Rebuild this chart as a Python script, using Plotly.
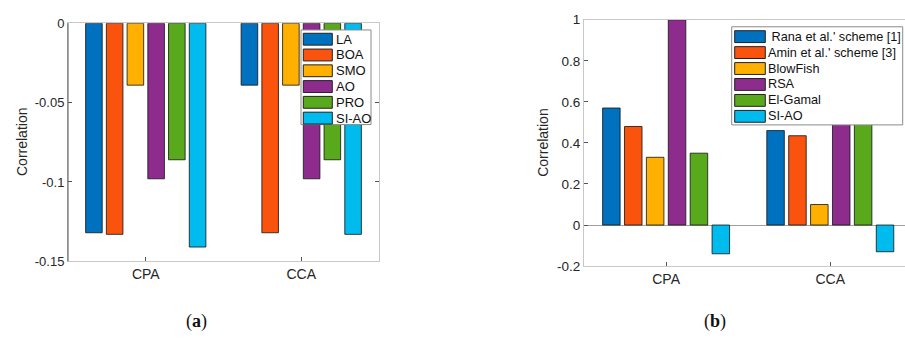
import plotly.graph_objects as go

W, H = 905, 342

categories = ["CPA", "CCA"]

# Panel (a)
names_a = ["LA", "BOA", "SMO", "AO", "PRO", "SI-AO"]
vals_a = {
    "LA": [-0.132, -0.039],
    "BOA": [-0.133, -0.132],
    "SMO": [-0.039, -0.039],
    "AO": [-0.098, -0.098],
    "PRO": [-0.086, -0.086],
    "SI-AO": [-0.141, -0.133],
}
yticks_a = [0, -0.05, -0.1, -0.15]
yticktext_a = ["0", "-0.05", "-0.1", "-0.15"]

# Panel (b)
names_b = ["Rana et al.' scheme [1]", "Amin et al.' scheme [3]", "BlowFish", "RSA", "El-Gamal", "SI-AO"]
legend_b = [" Rana et al.' scheme [1]", "Amin et al.' scheme [3]", "BlowFish", "RSA", "El-Gamal", "SI-AO"]
vals_b = {
    "Rana et al.' scheme [1]": [0.57, 0.46],
    "Amin et al.' scheme [3]": [0.48, 0.435],
    "BlowFish": [0.33, 0.10],
    "RSA": [1.0, 0.85],
    "El-Gamal": [0.35, 0.6],
    "SI-AO": [-0.14, -0.13],
}
yticks_b = [-0.2, 0, 0.2, 0.4, 0.6, 0.8, 1]
yticktext_b = ["-0.2", "0", "0.2", "0.4", "0.6", "0.8", "1"]

colors = ["#0071BF", "#F9530E", "#FFB000", "#8E2C8E", "#59A91C", "#00BCEE"]

FONT = "Arial"
TXT = "#262626"


def px(x):
    return x / W


def py(y):
    return 1 - y / H


fig = go.Figure()

for i, n in enumerate(names_a):
    fig.add_trace(go.Bar(x=[1, 2], y=vals_a[n], name=n, marker=dict(color=colors[i], line=dict(color="#111", width=0.8)),
                         xaxis="x", yaxis="y", showlegend=False, offsetgroup=str(i)))
for i, n in enumerate(names_b):
    fig.add_trace(go.Bar(x=[1, 2], y=vals_b[n], name=n, marker=dict(color=colors[i], line=dict(color="#111", width=0.8)),
                         xaxis="x2", yaxis="y2", showlegend=False, offsetgroup=str(i)))

# plot areas in px
A = dict(x0=68, x1=379, y0=17, y1=266)
B = dict(x0=584, x1=905, y0=13.3, y1=271)

axcommon = dict(showgrid=False, ticks="inside", ticklen=4, tickcolor="#555", tickwidth=1,
                linecolor="#c8c8c8", linewidth=1, showline=True)

fig.update_layout(
    width=W, height=H, margin=dict(l=0, r=0, t=0, b=0),
    paper_bgcolor="white", plot_bgcolor="white",
    barmode="group", bargap=0.2, bargroupgap=0.2,
    font=dict(family=FONT, color=TXT),
    xaxis=dict(domain=[px(A["x0"]), px(A["x1"])], range=[0.5, 2.5], tickvals=[1, 2], ticktext=categories,
               mirror=True, tickfont=dict(size=14, color=TXT), anchor="y", **axcommon),
    yaxis=dict(domain=[py(A["y1"]), py(A["y0"])], range=[-0.15, 0], tickvals=yticks_a, ticktext=yticktext_a,
               mirror="ticks", zeroline=False, tickfont=dict(size=13, color=TXT), anchor="x", **axcommon),
    xaxis2=dict(domain=[px(B["x0"]), px(B["x1"])], range=[0.5, 2.455], tickvals=[1, 2], ticktext=categories,
                mirror=True, tickfont=dict(size=14, color=TXT), anchor="y2", **axcommon),
    yaxis2=dict(domain=[py(B["y1"]), py(B["y0"])], range=[-0.2, 1], tickvals=yticks_b, ticktext=yticktext_b,
                zeroline=True, zerolinecolor="#a0a0a0", zerolinewidth=1, tickfont=dict(size=13.5, color=TXT),
                anchor="x2", **axcommon),
)

shapes = []
annotations = []
# darker left spine for panel (a)
shapes.append(dict(type="line", xref="x domain", yref="y domain", x0=0, x1=0, y0=0, y1=1,
                   line=dict(color="#555", width=1)))


def add_legend(box, rows_y, sw_x0, sw_x1, txt_x, labels, fsize):
    shapes.append(dict(type="rect", xref="paper", yref="paper", x0=px(box[0]), x1=px(box[1]),
                       y0=py(box[3]), y1=py(box[2]), fillcolor="white", line=dict(color="#8a8a8a", width=1),
                       layer="above"))
    for i, (lab, yc) in enumerate(zip(labels, rows_y)):
        shapes.append(dict(type="rect", xref="paper", yref="paper", x0=px(sw_x0), x1=px(sw_x1),
                           y0=py(yc + 6.2), y1=py(yc - 6.2), fillcolor=colors[i],
                           line=dict(color="#222", width=1), layer="above"))
        annotations.append(dict(xref="paper", yref="paper", x=px(txt_x), y=py(yc), text=lab, showarrow=False,
                                xanchor="left", yanchor="middle", font=dict(size=fsize, color="#111", family=FONT)))


add_legend((301, 371, 24, 123), [33.7 + 16.5 * k for k in range(6)], 303.3, 332.3, 333.5, names_a, 13)
add_legend((731.7, 902.7, 20.7, 123.3), [31 + 16.67 * k for k in range(6)], 734.7, 765.3, 766, legend_b, 12.7)

# axis titles
annotations.append(dict(xref="paper", yref="paper", x=px(22.7), y=py(141.5), text="Correlation", textangle=-90,
                        showarrow=False, font=dict(size=14, color=TXT, family=FONT), xanchor="center", yanchor="middle"))
annotations.append(dict(xref="paper", yref="paper", x=px(543.3), y=py(141.7), text="Correlation", textangle=-90,
                        showarrow=False, font=dict(size=14, color=TXT, family=FONT), xanchor="center", yanchor="middle"))
# panel labels
for lab, xc in (("a", 196), ("b", 715)):
    annotations.append(dict(xref="paper", yref="paper", x=px(xc), y=py(329), text="(<b>%s</b>)" % lab,
                            showarrow=False, xanchor="center", yanchor="middle",
                            font=dict(size=18, color="#111", family="Liberation Serif, DejaVu Serif, serif")))

fig.update_layout(shapes=shapes, annotations=annotations)
fig.write_html("out.html", config={"displayModeBar": False},
               post_script="document.body.style.margin='0';document.body.style.overflow='hidden';")
